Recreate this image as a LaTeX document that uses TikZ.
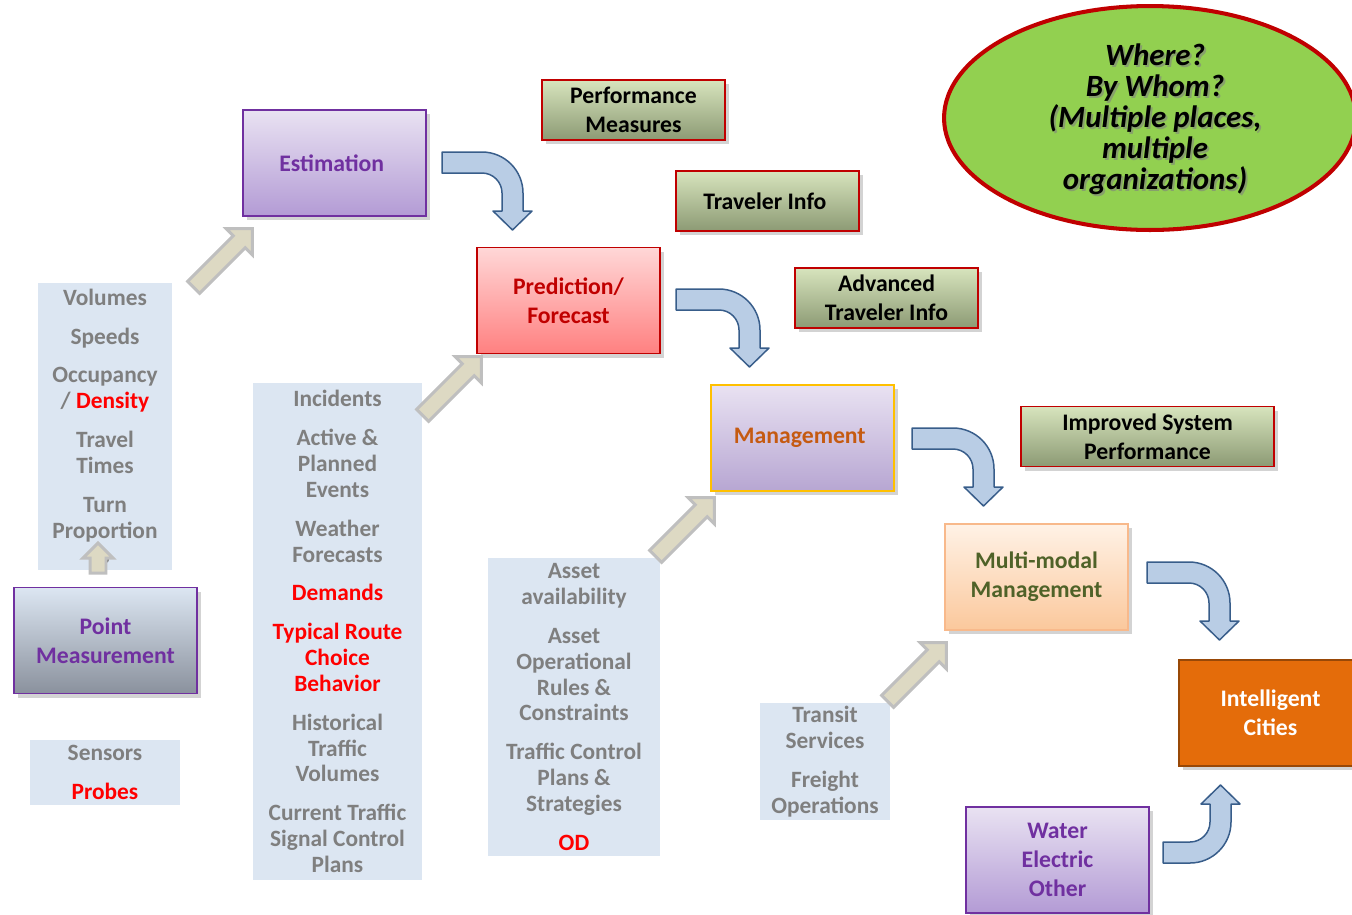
\documentclass[tikz,border=0pt]{standalone}
\usepackage{fontspec}
\setmainfont{Carlito}
\usepackage{tikz}
\usetikzlibrary{positioning}
\usetikzlibrary{shapes.geometric,shapes.arrows,shadows}

\definecolor{violetline}{HTML}{7030A0}
\definecolor{darkred}{HTML}{C00000}
\definecolor{lilactop}{HTML}{E9E2F2}
\definecolor{lilacbot}{HTML}{B39BD5}
\definecolor{olivetop}{HTML}{D7E4BD}
\definecolor{olivebot}{HTML}{8C9A74}
\definecolor{rosetop}{HTML}{FFD7D7}
\definecolor{rosebot}{HTML}{FF8080}
\definecolor{mgmtbot}{HTML}{B7A6D2}
\definecolor{gold}{HTML}{FFC000}
\definecolor{rust}{HTML}{C55A11}
\definecolor{peachtop}{HTML}{FFF2E6}
\definecolor{peachbot}{HTML}{FBC89C}
\definecolor{peachline}{HTML}{F8B98B}
\definecolor{mossgreen}{HTML}{4F6228}
\definecolor{cityorange}{HTML}{E46C0A}
\definecolor{citybrown}{HTML}{984807}
\definecolor{pointtop}{HTML}{DCE6F2}
\definecolor{pointbot}{HTML}{8A919D}
\definecolor{panelblue}{HTML}{DCE6F2}
\definecolor{textgray}{HTML}{7F7F7F}
\definecolor{arrowbeige}{HTML}{DDD9C3}
\definecolor{arrowgray}{HTML}{BFBFBF}
\definecolor{bluelight}{HTML}{B9CDE5}
\definecolor{bluedark}{HTML}{385D8A}
\definecolor{limegreen}{HTML}{92D050}

\begin{document}
\begin{tikzpicture}[x=0.02cm,y=-0.02cm,
  box/.style={align=center,draw,line width=1.1pt,minimum width=3.66cm,minimum height=2.12cm,
    font=\fontsize{13.5}{16.4}\selectfont\bfseries,
    drop shadow={shadow xshift=2.5pt,shadow yshift=-2.5pt,opacity=0.35}},
  purplebox/.style={box,draw=violetline,top color=lilactop,bottom color=lilacbot,text=violetline},
  result/.style={box,minimum height=1.2cm,draw=darkred,top color=olivetop,bottom color=olivebot,text=black},
  panel/.style={align=center,fill=panelblue,inner sep=0pt,
    text=textgray,font=\fontsize{13.3}{14.7}\selectfont\bfseries},
  grayarrow/.style={single arrow,draw=arrowgray,fill=arrowbeige,line width=1.7pt,
    inner xsep=0pt,inner ysep=0.14cm,minimum height=1.66cm,single arrow head extend=0.2cm},
  bluearrow/.style={draw=bluedark,fill=bluelight,line width=0.85pt,line join=round},
  bent arrow/.pic={
    \draw[bluearrow] (0,0) -- (#1-20,0) .. controls (#1+2.6,0) and (#1+21,18.4) .. (#1+21,41)
      -- (#1+21,59) -- (#1+30,59) -- (#1+10.5,78) -- (#1-9,59) -- (#1,59) -- (#1,41)
      .. controls (#1,30) and (#1-9,21) .. (#1-20,21) -- (0,21) -- cycle;
  }]
  \useasboundingbox (0,0) rectangle (1352,914);

  % input panels
  \node at (105,426.5) [panel,minimum width=2.68cm,minimum height=5.74cm] (measures) {
    Volumes\\[7.4pt] Speeds\\[7.4pt] Occupancy\\ / \textcolor{red}{Density}\\[7.4pt]
    Travel\\ Times\\[7.4pt] Turn\\ Proportion\\ s
  };

  \node at (105,772.5) [panel,minimum width=3cm,minimum height=1.3cm] (sources) {
    Sensors\\[7.4pt] \textcolor{red}{Probes}
  };

  \node at (337.5,631.5) [panel,minimum width=3.38cm,minimum height=9.94cm] (inputs) {
    Incidents\\[7.4pt] Active \&\\ Planned\\ Events\\[7.4pt] Weather\\ Forecasts\\[7.4pt]
    \textcolor{red}{Demands}\\[7.4pt]
    \textcolor{red}{Typical Route}\\ \textcolor{red}{Choice}\\ \textcolor{red}{Behavior}\\[7.4pt]
    Historical\\ Traffic\\ Volumes\\[7.4pt] Current Traffic\\ Signal Control\\ Plans
  };

  \node at (574,707) [panel,minimum width=3.44cm,minimum height=5.96cm] (assets) {
    Asset\\ availability\\[7.4pt] Asset\\ Operational\\ Rules \&\\ Constraints\\[7.4pt]
    Traffic Control\\ Plans \&\\ Strategies\\[7.4pt] \textcolor{red}{OD}
  };

  \node at (825,761.5) [panel,minimum width=2.6cm,minimum height=2.34cm] (modes) {
    Transit\\ Services\\[7.4pt] Freight\\ Operations
  };

  % main boxes
  \node at (105.5,640.5) [box,draw=violetline,top color=pointtop,bottom color=pointbot,text=violetline] (point) {
    Point\\ Measurement
  };

  \node at (334.5,163) [purplebox] (estimation) {
    Estimation
  };

  \node at (568.5,300.5) [box,draw=darkred,top color=rosetop,bottom color=rosebot,text=darkred] (prediction) {
    Prediction/\\ Forecast
  };

  \node at (802.5,438) [box,draw=gold,top color=lilactop,bottom color=mgmtbot,text=rust] (management) {
    Management
  };

  \node at (1036.5,577) [box,draw=peachline,top color=peachtop,bottom color=peachbot,text=mossgreen] (multimodal) {
    Multi-modal\\ Management
  };

  \node at (1270.5,713) [box,draw=citybrown,fill=cityorange,text=white] (cities) {
    Intelligent\\ Cities
  };

  \node at (1057.5,860) [purplebox] (utilities) {
    Water\\ Electric\\ Other
  };

  % results
  \node at (633.5,110) [result] (perf) {
    Performance\\ Measures
  };

  \node at (767.5,201) [result] (travinfo) {
    Traveler Info
  };

  \node at (886.5,298) [result] (advinfo) {
    Advanced\\ Traveler Info
  };

  \node at (1147.5,436.5) [result,minimum width=5.06cm] (improved) {
    Improved System\\ Performance
  };

  % question bubble
  \node at (1150,118) [ellipse,draw=darkred,line width=2.3pt,fill=limegreen,
    minimum width=8.24cm,minimum height=4.48cm] (whom) {};
  \node at (1157,121) [align=center,text=black!50,opacity=0.6,
    font=\fontsize{17.6}{17.6}\selectfont\bfseries\itshape] (questionshadow) {
    Where?\\ By Whom?\\ (Multiple places,\\ multiple\\ organizations)
  };
  \node at (1155,119) [align=center,font=\fontsize{17.6}{17.6}\selectfont\bfseries\itshape] (question) {
    Where?\\ By Whom?\\ (Multiple places,\\ multiple\\ organizations)
  };

  % feeding arrows
  \node at (98,562) [grayarrow,rotate=90,minimum height=0.6cm,inner ysep=0.13cm,single arrow head extend=0.14cm] (upmeasures) {};
  \node at (220,261) [grayarrow,rotate=45] (upestimation) {};
  \node at (449,389) [grayarrow,rotate=45] (upprediction) {};
  \node at (682,530) [grayarrow,rotate=45] (upmanagement) {};
  \node at (914,675) [grayarrow,rotate=45] (upmultimodal) {};

  % flow arrows
  \pic at (442,152) {bent arrow=60};
  \pic at (676,289) {bent arrow=63};
  \pic at (912,428) {bent arrow=61};
  \pic at (1147,562) {bent arrow=62};
  \pic[yscale=-1] at (1163,863) {bent arrow=47};
\end{tikzpicture}
\end{document}
